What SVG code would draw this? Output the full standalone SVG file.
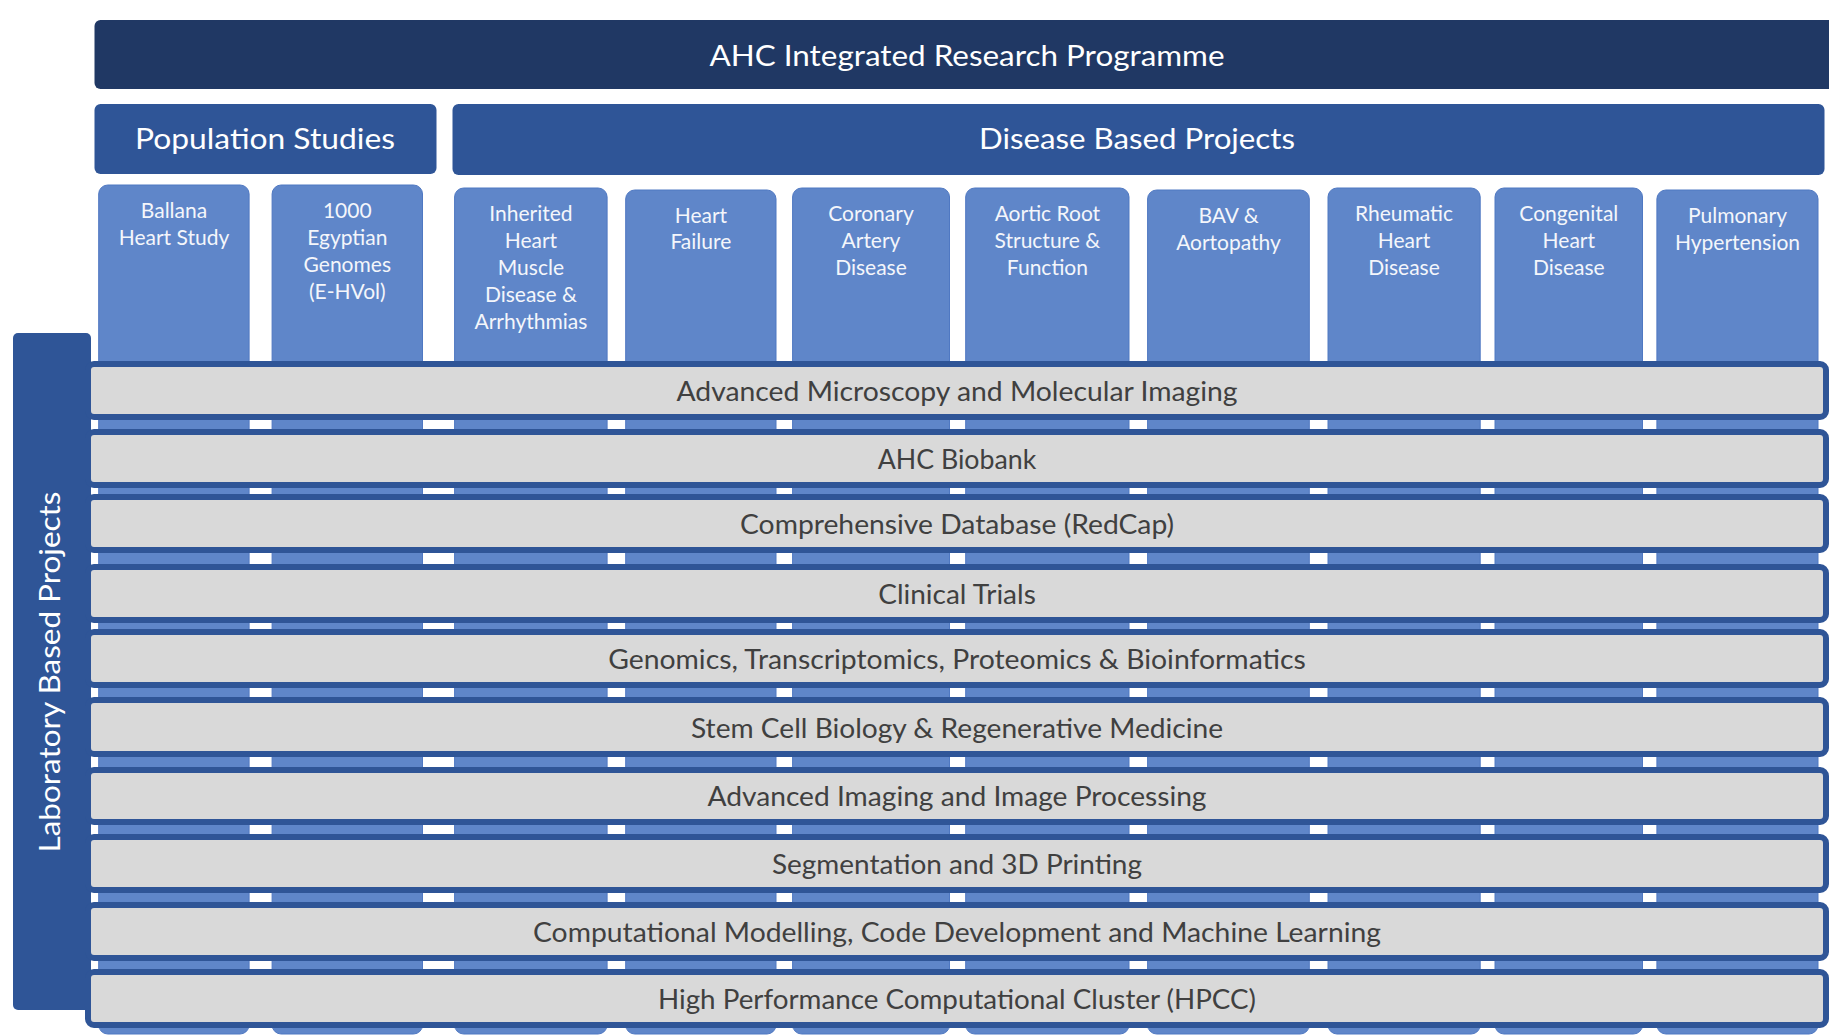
<svg xmlns="http://www.w3.org/2000/svg" width="1829" height="1036" viewBox="0 0 1829 1036">
<style>
  .dark{fill:#203864;}
  .mid{fill:#2F5597;}
  .col{fill:#5F86C9;stroke:#4F78C2;stroke-width:1;}
  .row{fill:#D9D9D9;stroke:#2F5597;stroke-width:6;}
  .t{font-family:Lato,"Liberation Sans",sans-serif;}
  .title{font-size:29px;fill:#FFFFFF;text-anchor:middle;}
  .ct{font-size:21px;fill:#F4F6FB;text-anchor:middle;}
  .rt{font-size:26px;fill:#404040;text-anchor:middle;}
</style>
<rect width="1829" height="1036" fill="#FFFFFF"/>

<g id="programme">
  <rect class="dark" x="94.5" y="20" width="1745" height="69" rx="6"/>
  <text class="t title" x="967" y="66" textLength="515" lengthAdjust="spacingAndGlyphs">AHC Integrated Research Programme</text>
</g>

<g id="population-studies">
  <rect class="mid" x="94.5" y="104" width="342" height="70" rx="6"/>
  <text class="t title" x="265" y="149" textLength="260" lengthAdjust="spacingAndGlyphs">Population Studies</text>
</g>

<g id="disease-based-projects">
  <rect class="mid" x="452.5" y="104" width="1372" height="71" rx="6"/>
  <text class="t title" x="1137" y="149" textLength="316" lengthAdjust="spacingAndGlyphs">Disease Based Projects</text>
</g>

<g id="col-ballana">
  <rect class="col" x="98.7" y="185" width="150.4" height="849" rx="9"/>
  <text class="t ct" x="174" y="218">Ballana</text>
  <text class="t ct" x="174" y="245">Heart Study</text>
</g>
<g id="col-egyptian-genomes">
  <rect class="col" x="272.1" y="185" width="150.4" height="849" rx="9"/>
  <text class="t ct" x="347.3" y="218">1000</text>
  <text class="t ct" x="347.3" y="245">Egyptian</text>
  <text class="t ct" x="347.3" y="272">Genomes</text>
  <text class="t ct" x="347.3" y="299">(E-HVol)</text>
</g>
<g id="col-inherited">
  <rect class="col" x="454.6" y="188" width="152.5" height="846" rx="9"/>
  <text class="t ct" x="530.9" y="220.5">Inherited</text>
  <text class="t ct" x="530.9" y="247.5">Heart</text>
  <text class="t ct" x="530.9" y="274.5">Muscle</text>
  <text class="t ct" x="530.9" y="301.5">Disease &amp;</text>
  <text class="t ct" x="530.9" y="328.5">Arrhythmias</text>
</g>
<g id="col-heart-failure">
  <rect class="col" x="625.7" y="190" width="150.3" height="844" rx="9"/>
  <text class="t ct" x="700.9" y="223">Heart</text>
  <text class="t ct" x="700.9" y="249">Failure</text>
</g>
<g id="col-coronary">
  <rect class="col" x="792.6" y="188" width="156.9" height="846" rx="9"/>
  <text class="t ct" x="871" y="220.5">Coronary</text>
  <text class="t ct" x="871" y="247.5">Artery</text>
  <text class="t ct" x="871" y="274.5">Disease</text>
</g>
<g id="col-aortic-root">
  <rect class="col" x="965.7" y="188" width="163.3" height="846" rx="9"/>
  <text class="t ct" x="1047.4" y="220.5">Aortic Root</text>
  <text class="t ct" x="1047.4" y="247.5">Structure &amp;</text>
  <text class="t ct" x="1047.4" y="274.5">Function</text>
</g>
<g id="col-bav">
  <rect class="col" x="1147.6" y="190" width="161.7" height="844" rx="9"/>
  <text class="t ct" x="1228.5" y="223">BAV &amp;</text>
  <text class="t ct" x="1228.5" y="250">Aortopathy</text>
</g>
<g id="col-rheumatic">
  <rect class="col" x="1328" y="188" width="152.2" height="846" rx="9"/>
  <text class="t ct" x="1404" y="220.5">Rheumatic</text>
  <text class="t ct" x="1404" y="247.5">Heart</text>
  <text class="t ct" x="1404" y="274.5">Disease</text>
</g>
<g id="col-congenital">
  <rect class="col" x="1495" y="188" width="147.5" height="846" rx="9"/>
  <text class="t ct" x="1568.8" y="220.5">Congenital</text>
  <text class="t ct" x="1568.8" y="247.5">Heart</text>
  <text class="t ct" x="1568.8" y="274.5">Disease</text>
</g>
<g id="col-pulmonary">
  <rect class="col" x="1656.9" y="190" width="161.1" height="844" rx="9"/>
  <text class="t ct" x="1737.5" y="223">Pulmonary</text>
  <text class="t ct" x="1737.5" y="250">Hypertension</text>
</g>

<g id="laboratory-based-projects">
  <rect class="mid" x="13" y="333" width="78" height="677" rx="5"/>
  <text class="t title" transform="translate(60,672) rotate(-90)" x="0" y="0" textLength="361" lengthAdjust="spacingAndGlyphs">Laboratory Based Projects</text>
</g>

<g id="row-microscopy">
  <rect class="row" x="88" y="364" width="1738" height="53" rx="6"/>
  <text class="t rt" x="957" y="400.5" textLength="561" lengthAdjust="spacingAndGlyphs">Advanced Microscopy and Molecular Imaging</text>
</g>
<g id="row-biobank">
  <rect class="row" x="88" y="432" width="1738" height="53" rx="6"/>
  <text class="t rt" x="957" y="468.5" textLength="158.6" lengthAdjust="spacingAndGlyphs">AHC Biobank</text>
</g>
<g id="row-database">
  <rect class="row" x="88" y="497" width="1738" height="53" rx="6"/>
  <text class="t rt" x="957" y="533.5" textLength="434" lengthAdjust="spacingAndGlyphs">Comprehensive Database (RedCap)</text>
</g>
<g id="row-clinical-trials">
  <rect class="row" x="88" y="567" width="1738" height="53" rx="6"/>
  <text class="t rt" x="957" y="603.5" textLength="157.5" lengthAdjust="spacingAndGlyphs">Clinical Trials</text>
</g>
<g id="row-genomics">
  <rect class="row" x="88" y="632" width="1738" height="53" rx="6"/>
  <text class="t rt" x="957" y="668.5" textLength="697.6" lengthAdjust="spacingAndGlyphs">Genomics, Transcriptomics, Proteomics &amp; Bioinformatics</text>
</g>
<g id="row-stem-cell">
  <rect class="row" x="88" y="700" width="1738" height="54" rx="6"/>
  <text class="t rt" x="957" y="737.5" textLength="532" lengthAdjust="spacingAndGlyphs">Stem Cell Biology &amp; Regenerative Medicine</text>
</g>
<g id="row-imaging">
  <rect class="row" x="88" y="770" width="1738" height="52" rx="6"/>
  <text class="t rt" x="957" y="806" textLength="499" lengthAdjust="spacingAndGlyphs">Advanced Imaging and Image Processing</text>
</g>
<g id="row-segmentation">
  <rect class="row" x="88" y="837" width="1738" height="53" rx="6"/>
  <text class="t rt" x="957" y="873.5" textLength="370" lengthAdjust="spacingAndGlyphs">Segmentation and 3D Printing</text>
</g>
<g id="row-modelling">
  <rect class="row" x="88" y="905" width="1738" height="53" rx="6"/>
  <text class="t rt" x="957" y="941.5" textLength="848" lengthAdjust="spacingAndGlyphs">Computational Modelling, Code Development and Machine Learning</text>
</g>
<g id="row-hpcc">
  <rect class="row" x="88" y="972" width="1738" height="53" rx="6"/>
  <text class="t rt" x="957" y="1008.5" textLength="598" lengthAdjust="spacingAndGlyphs">High Performance Computational Cluster (HPCC)</text>
</g>
</svg>
